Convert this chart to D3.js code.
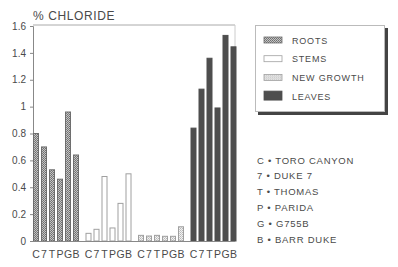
<!DOCTYPE html>
<html>
<head>
<meta charset="utf-8">
<script src="https://cdn.jsdelivr.net/npm/d3@7"></script>
<style>
  body { margin: 0; background: #fff; }
  text { font-family: "Liberation Sans", Arial, sans-serif; fill: #4a4a4a; }
</style>
</head>
<body>
<svg id="chart" width="398" height="267"></svg>
<script>
// --- data ---
const cultivars = ["C", "7", "T", "P", "G", "B"];
const tissues = ["ROOTS", "STEMS", "NEW GROWTH", "LEAVES"];
const roots = [0.80, 0.70, 0.53, 0.46, 0.96, 0.64];
const stems = [0.057, 0.087, 0.48, 0.097, 0.28, 0.50];
const newGrowth = [0.042, 0.037, 0.042, 0.035, 0.035, 0.106];
const leaves = [0.84, 1.13, 1.36, 0.99, 1.53, 1.445];
const yTicks = [0, 0.2, 0.4, 0.6, 0.8, 1, 1.2, 1.4, 1.6];
const keyLabels = ["C \u2022 TORO CANYON", "7 \u2022 DUKE 7", "T \u2022 THOMAS", "P \u2022 PARIDA", "G \u2022 G755B", "B \u2022 BARR DUKE"];

const series = [roots, stems, newGrowth, leaves];

const svg = d3.select("#chart");

// patterns
const defs = svg.append("defs");
const pRoots = defs.append("pattern").attr("id", "pRoots")
    .attr("width", 2).attr("height", 2).attr("patternUnits", "userSpaceOnUse");
pRoots.append("rect").attr("width", 2).attr("height", 2).attr("fill", "#c4c4c4");
pRoots.append("rect").attr("width", 1).attr("height", 1).attr("fill", "#6e6e6e");
pRoots.append("rect").attr("x", 1).attr("y", 1).attr("width", 1).attr("height", 1).attr("fill", "#7e7e7e");

const pNew = defs.append("pattern").attr("id", "pNew")
    .attr("width", 2).attr("height", 2).attr("patternUnits", "userSpaceOnUse");
pNew.append("rect").attr("width", 2).attr("height", 2).attr("fill", "#f2f2f2");
pNew.append("rect").attr("width", 1).attr("height", 1).attr("fill", "#b8b8b8");
pNew.append("rect").attr("x", 1).attr("y", 1).attr("width", 1).attr("height", 1).attr("fill", "#cacaca");

const fills = ["url(#pRoots)", "#fff", "url(#pNew)", "#4e4e4e"];
const strokes = ["#6e6e6e", "#a0a0a0", "#a0a0a0", "#4e4e4e"];

// scales
const plotL = 33, plotR = 235, plotT = 26, plotB = 241;
const y = d3.scaleLinear().domain([0, 1.6]).range([plotB, plotT]);
const xGroup = d3.scaleBand().domain(tissues).range([plotL, plotL + 52.5 * 4]).paddingInner(0).paddingOuter(0);
const xBar = d3.scaleBand().domain(cultivars).range([0, 46]).paddingInner(0.25).paddingOuter(0);

// frame
svg.append("line").attr("x1", plotL).attr("x2", plotR).attr("y1", plotT - 1).attr("y2", plotT - 1)
    .attr("stroke", "#aaa").attr("stroke-width", 1);
svg.append("line").attr("x1", plotR).attr("x2", plotR).attr("y1", plotT - 1).attr("y2", plotB)
    .attr("stroke", "#ccc").attr("stroke-width", 1);

// y axis
const yAxis = svg.append("g").attr("transform", `translate(${plotL},0)`)
    .call(d3.axisLeft(y).tickValues(yTicks).tickSize(3).tickPadding(4)
        .tickFormat(d => d === 0 ? "0" : d3.format("~g")(d)));
yAxis.select(".domain").attr("stroke", "#888");
yAxis.selectAll(".tick line").attr("stroke", "#888");
yAxis.selectAll("text").attr("font-size", 10).attr("fill", "#4a4a4a")
    .attr("font-family", "Liberation Sans, Arial, sans-serif");

// bars
const groups = svg.selectAll("g.grp").data(series).enter().append("g")
    .attr("class", "grp")
    .attr("transform", (d, i) => `translate(${xGroup(tissues[i])},0)`);

groups.each(function(vals, gi) {
    const g = d3.select(this);
    g.selectAll("rect").data(vals).enter().append("rect")
        .attr("x", (d, i) => xBar(cultivars[i]) + 0.5)
        .attr("y", d => y(d))
        .attr("width", xBar.bandwidth() - 1)
        .attr("height", d => plotB - y(d))
        .attr("fill", fills[gi])
        .attr("stroke", strokes[gi])
        .attr("stroke-width", 1);
    g.selectAll("text.cv").data(cultivars).enter().append("text")
        .attr("class", "cv")
        .attr("x", c => xBar(c) + xBar.bandwidth() / 2)
        .attr("y", 258)
        .attr("text-anchor", "middle")
        .attr("font-size", 10.5)
        .text(c => c);
});

// x axis line
svg.append("line").attr("x1", plotL).attr("x2", plotR).attr("y1", plotB + 0.5).attr("y2", plotB + 0.5)
    .attr("stroke", "#888");

// title
svg.append("text").attr("x", 33).attr("y", 20).attr("font-size", 12)
    .attr("letter-spacing", 0.6).text("% CHLORIDE");

// legend box
const lg = svg.append("g");
lg.append("rect").attr("x", 258).attr("y", 28).attr("width", 130).attr("height", 87).attr("fill", "#444");
lg.append("rect").attr("x", 255.5).attr("y", 25.5).attr("width", 129).attr("height", 86)
    .attr("fill", "#fff").attr("stroke", "#bbb");
const legendRows = lg.selectAll("g.row").data(tissues).enter().append("g")
    .attr("class", "row")
    .attr("transform", (d, i) => `translate(264,${40 + i * 18.7})`);
legendRows.append("rect")
    .attr("x", 0).attr("y", (d, i) => i === 3 ? -5 : -3)
    .attr("width", 18).attr("height", (d, i) => i === 3 ? 9 : 6)
    .attr("fill", (d, i) => fills[i])
    .attr("stroke", (d, i) => strokes[i]).attr("stroke-width", 0.8);
legendRows.append("text").attr("x", 28).attr("y", 3.5).attr("font-size", 9)
    .attr("letter-spacing", 0.8).text(d => d);

// cultivar key
svg.selectAll("text.key").data(keyLabels).enter().append("text")
    .attr("class", "key")
    .attr("x", 257).attr("y", (d, i) => 163.5 + i * 15.8)
    .attr("font-size", 9.5).attr("letter-spacing", 0.75)
    .text(d => d);
</script>
</body>
</html>
